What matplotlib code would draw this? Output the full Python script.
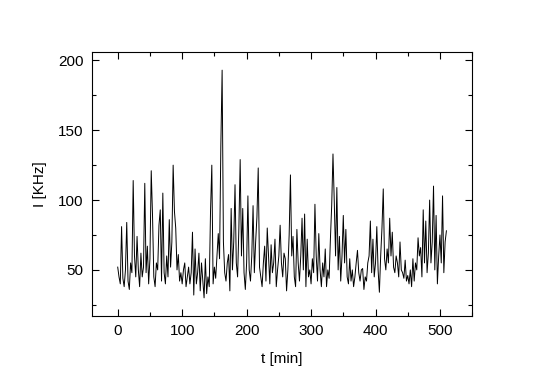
import matplotlib
matplotlib.use("Agg")
import matplotlib.pyplot as plt
from matplotlib.ticker import MultipleLocator

t_min = list(range(0, 512, 2))
intensity = [
    52, 45, 40, 81, 44, 38, 50, 84, 42, 36,
    55, 48, 114, 60, 45, 74, 50, 38, 62, 45,
    52, 112, 48, 67, 40, 58, 121, 89, 45, 38,
    55, 50, 82, 93, 42, 105, 48, 40, 60, 45,
    86, 52, 70, 125, 92, 80, 50, 61, 42, 48,
    40, 50, 55, 38, 45, 52, 40, 48, 77, 32,
    65, 40, 48, 62, 35, 55, 42, 30, 58, 33,
    45, 38, 92, 125, 40, 52, 44, 60, 76, 58,
    139, 193, 70, 48, 42, 55, 61, 35, 94, 50,
    70, 111, 55, 45, 80, 129, 60, 94, 48, 36,
    55, 103, 50, 42, 60, 96, 48, 70, 88, 123,
    52, 45, 38, 55, 67, 42, 80, 60, 40, 68,
    48, 55, 72, 38, 50, 60, 82, 55, 45, 62,
    58, 35, 50, 75, 118, 60, 74, 45, 38, 79,
    55, 42, 60, 87, 50, 90, 38, 72, 45, 50,
    40, 58, 48, 97, 60, 42, 76, 50, 38, 55,
    45, 65, 38, 50, 44, 72, 96, 133, 99, 60,
    109, 50, 74, 42, 60, 89, 55, 79, 45, 40,
    58, 42, 50, 38, 45, 55, 64, 48, 42, 50,
    51, 36, 45, 42, 55, 60, 85, 48, 72, 45,
    55, 81, 50, 34, 60, 80, 108, 58, 50, 65,
    55, 87, 60, 77, 52, 48, 60, 55, 45, 70,
    50, 48, 44, 57, 42, 46, 40, 50, 38, 58,
    42, 55, 50, 73, 60, 66, 45, 93, 55, 85,
    48, 62, 100, 55, 70, 110, 50, 89, 40, 60,
    75, 55, 103, 48, 70, 78,
]
n = min(len(t_min), len(intensity))
t_min = t_min[:n]
intensity = intensity[:n]

plt.rcParams['font.family'] = ['Liberation Sans', 'DejaVu Sans']

fig = plt.figure(figsize=(5.44, 3.81), dpi=100)
ax = fig.add_axes([0.169, 0.1706, 0.699, 0.6929])
ax.plot(t_min, intensity, color='black', lw=0.7)
ax.set_xlim(-40, 550)
ax.set_ylim(17, 206)
ax.xaxis.set_major_locator(MultipleLocator(100))
ax.xaxis.set_minor_locator(MultipleLocator(50))
ax.yaxis.set_major_locator(MultipleLocator(50))
ax.yaxis.set_minor_locator(MultipleLocator(25))
ax.tick_params(which='both', direction='in', top=True, right=True,
               labelsize=11, colors='black', width=0.8)
ax.tick_params(which='major', length=5, pad=6)
ax.tick_params(which='minor', length=3)
for s in ax.spines.values():
    s.set_linewidth(0.8)
ax.set_xlabel('t [min]', fontsize=11, labelpad=10)
ax.set_ylabel('I [KHz]', fontsize=11, labelpad=8)
fig.savefig('out.png', dpi=100)
